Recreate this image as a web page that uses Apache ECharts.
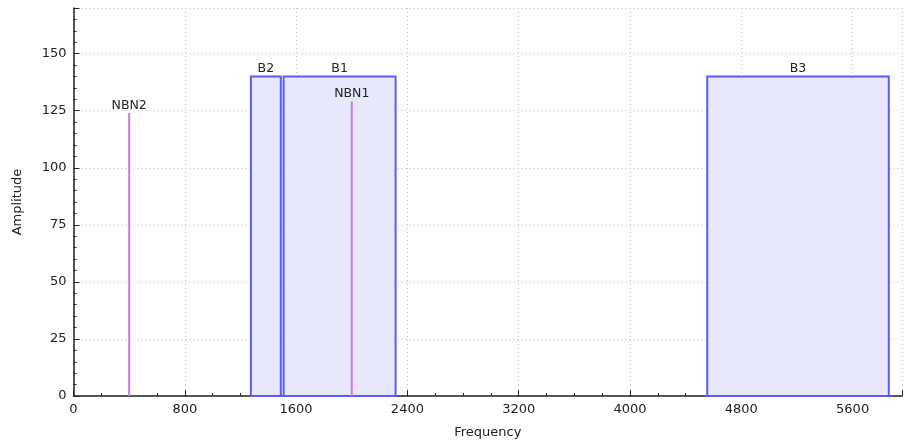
<!DOCTYPE html>
<html>
<head>
<meta charset="utf-8">
<script src="https://cdn.jsdelivr.net/npm/echarts@6/dist/echarts.min.js"></script>
<style>html,body{margin:0;padding:0;background:#fff}#c{width:907px;height:442px}</style>
</head>
<body>
<div id="c"></div>
<script>
var bandNames = ['B2', 'B1', 'B3'];
var bandStart = [1275, 1510, 4555];
var bandEnd = [1490, 2315, 5860];
var bandHeight = [140, 140, 140];

var nbnNames = ['NBN2', 'NBN1'];
var nbnFreq = [400, 2000];
var nbnAmp = [124, 129];

var xMin = 0, xMax = 5955, xInterval = 800;
var yMin = 0, yMax = 170, yInterval = 25;

var bandData = bandNames.map(function (n, i) { return [bandStart[i], bandEnd[i], bandHeight[i], n]; });
var nbnData = nbnNames.map(function (n, i) { return [nbnFreq[i], nbnAmp[i], n]; });

var FONT = 'DejaVu Sans';
var chart = echarts.init(document.getElementById('c'), null, { renderer: 'canvas' });
chart.setOption({
  animation: false,
  grid: { left: 73.5, right: 5, top: 8, bottom: 46, containLabel: false, outerBoundsMode: 'none' },
  xAxis: {
    type: 'value', min: xMin, max: xMax, interval: xInterval,
    name: 'Frequency', nameLocation: 'middle', nameGap: 30,
    nameTextStyle: { fontFamily: FONT, fontSize: 13, color: '#222' },
    axisLine: { show: true, onZero: false, lineStyle: { color: '#222', width: 1.5 } },
    axisTick: { show: true, inside: true, length: 6, lineStyle: { color: '#222' } },
    minorTick: { show: true, splitNumber: 4, length: 3, lineStyle: { color: '#222' } },
    axisLabel: { fontFamily: FONT, fontSize: 13, color: '#222', margin: 7, showMaxLabel: false,
      formatter: function (v) { return String(v); } },
    splitLine: { show: true, lineStyle: { type: [1, 3], color: '#bbb' } }
  },
  yAxis: {
    type: 'value', min: yMin, max: yMax, interval: yInterval,
    name: 'Amplitude', nameLocation: 'middle', nameGap: 49,
    nameTextStyle: { fontFamily: FONT, fontSize: 13, color: '#222' },
    axisLine: { show: true, onZero: false, lineStyle: { color: '#222', width: 1.5 } },
    axisTick: { show: true, inside: true, length: 6, lineStyle: { color: '#222' } },
    minorTick: { show: true, splitNumber: 5, length: 3, lineStyle: { color: '#222' } },
    axisLabel: { fontFamily: FONT, fontSize: 13, color: '#222', margin: 7, showMaxLabel: false,
      formatter: function (v) { return String(v); } },
    splitLine: { show: true, lineStyle: { type: [1, 3], color: '#bbb' } }
  },
  series: [
    {
      type: 'custom',
      data: bandData,
      encode: { x: [0, 1], y: 2 },
      renderItem: function (params, api) {
        var p0 = api.coord([api.value(0), api.value(2)]);
        var p1 = api.coord([api.value(1), 0]);
        var name = bandNames[params.dataIndex];
        return {
          type: 'group',
          children: [
            {
              type: 'rect',
              shape: { x: p0[0], y: p0[1], width: p1[0] - p0[0], height: p1[1] - p0[1] },
              style: { fill: 'rgba(232,232,252,1)', stroke: '#5a5aff', lineWidth: 2 }
            },
            {
              type: 'text',
              style: {
                text: name, x: (p0[0] + p1[0]) / 2, y: p0[1] - 1,
                align: 'center', verticalAlign: 'bottom',
                font: '12.5px "' + FONT + '"', fill: '#222'
              }
            }
          ]
        };
      }
    },
    {
      type: 'custom',
      data: nbnData,
      encode: { x: 0, y: 1 },
      renderItem: function (params, api) {
        var top = api.coord([api.value(0), api.value(1)]);
        var bot = api.coord([api.value(0), 0]);
        var name = nbnNames[params.dataIndex];
        return {
          type: 'group',
          children: [
            {
              type: 'line',
              shape: { x1: top[0], y1: top[1], x2: bot[0], y2: bot[1] },
              style: { stroke: '#cc77ee', lineWidth: 2 }
            },
            {
              type: 'text',
              style: {
                text: name, x: top[0], y: top[1] - 1,
                align: 'center', verticalAlign: 'bottom',
                font: '12.5px "' + FONT + '"', fill: '#222'
              }
            }
          ]
        };
      }
    }
  ]
});
</script>
</body>
</html>
